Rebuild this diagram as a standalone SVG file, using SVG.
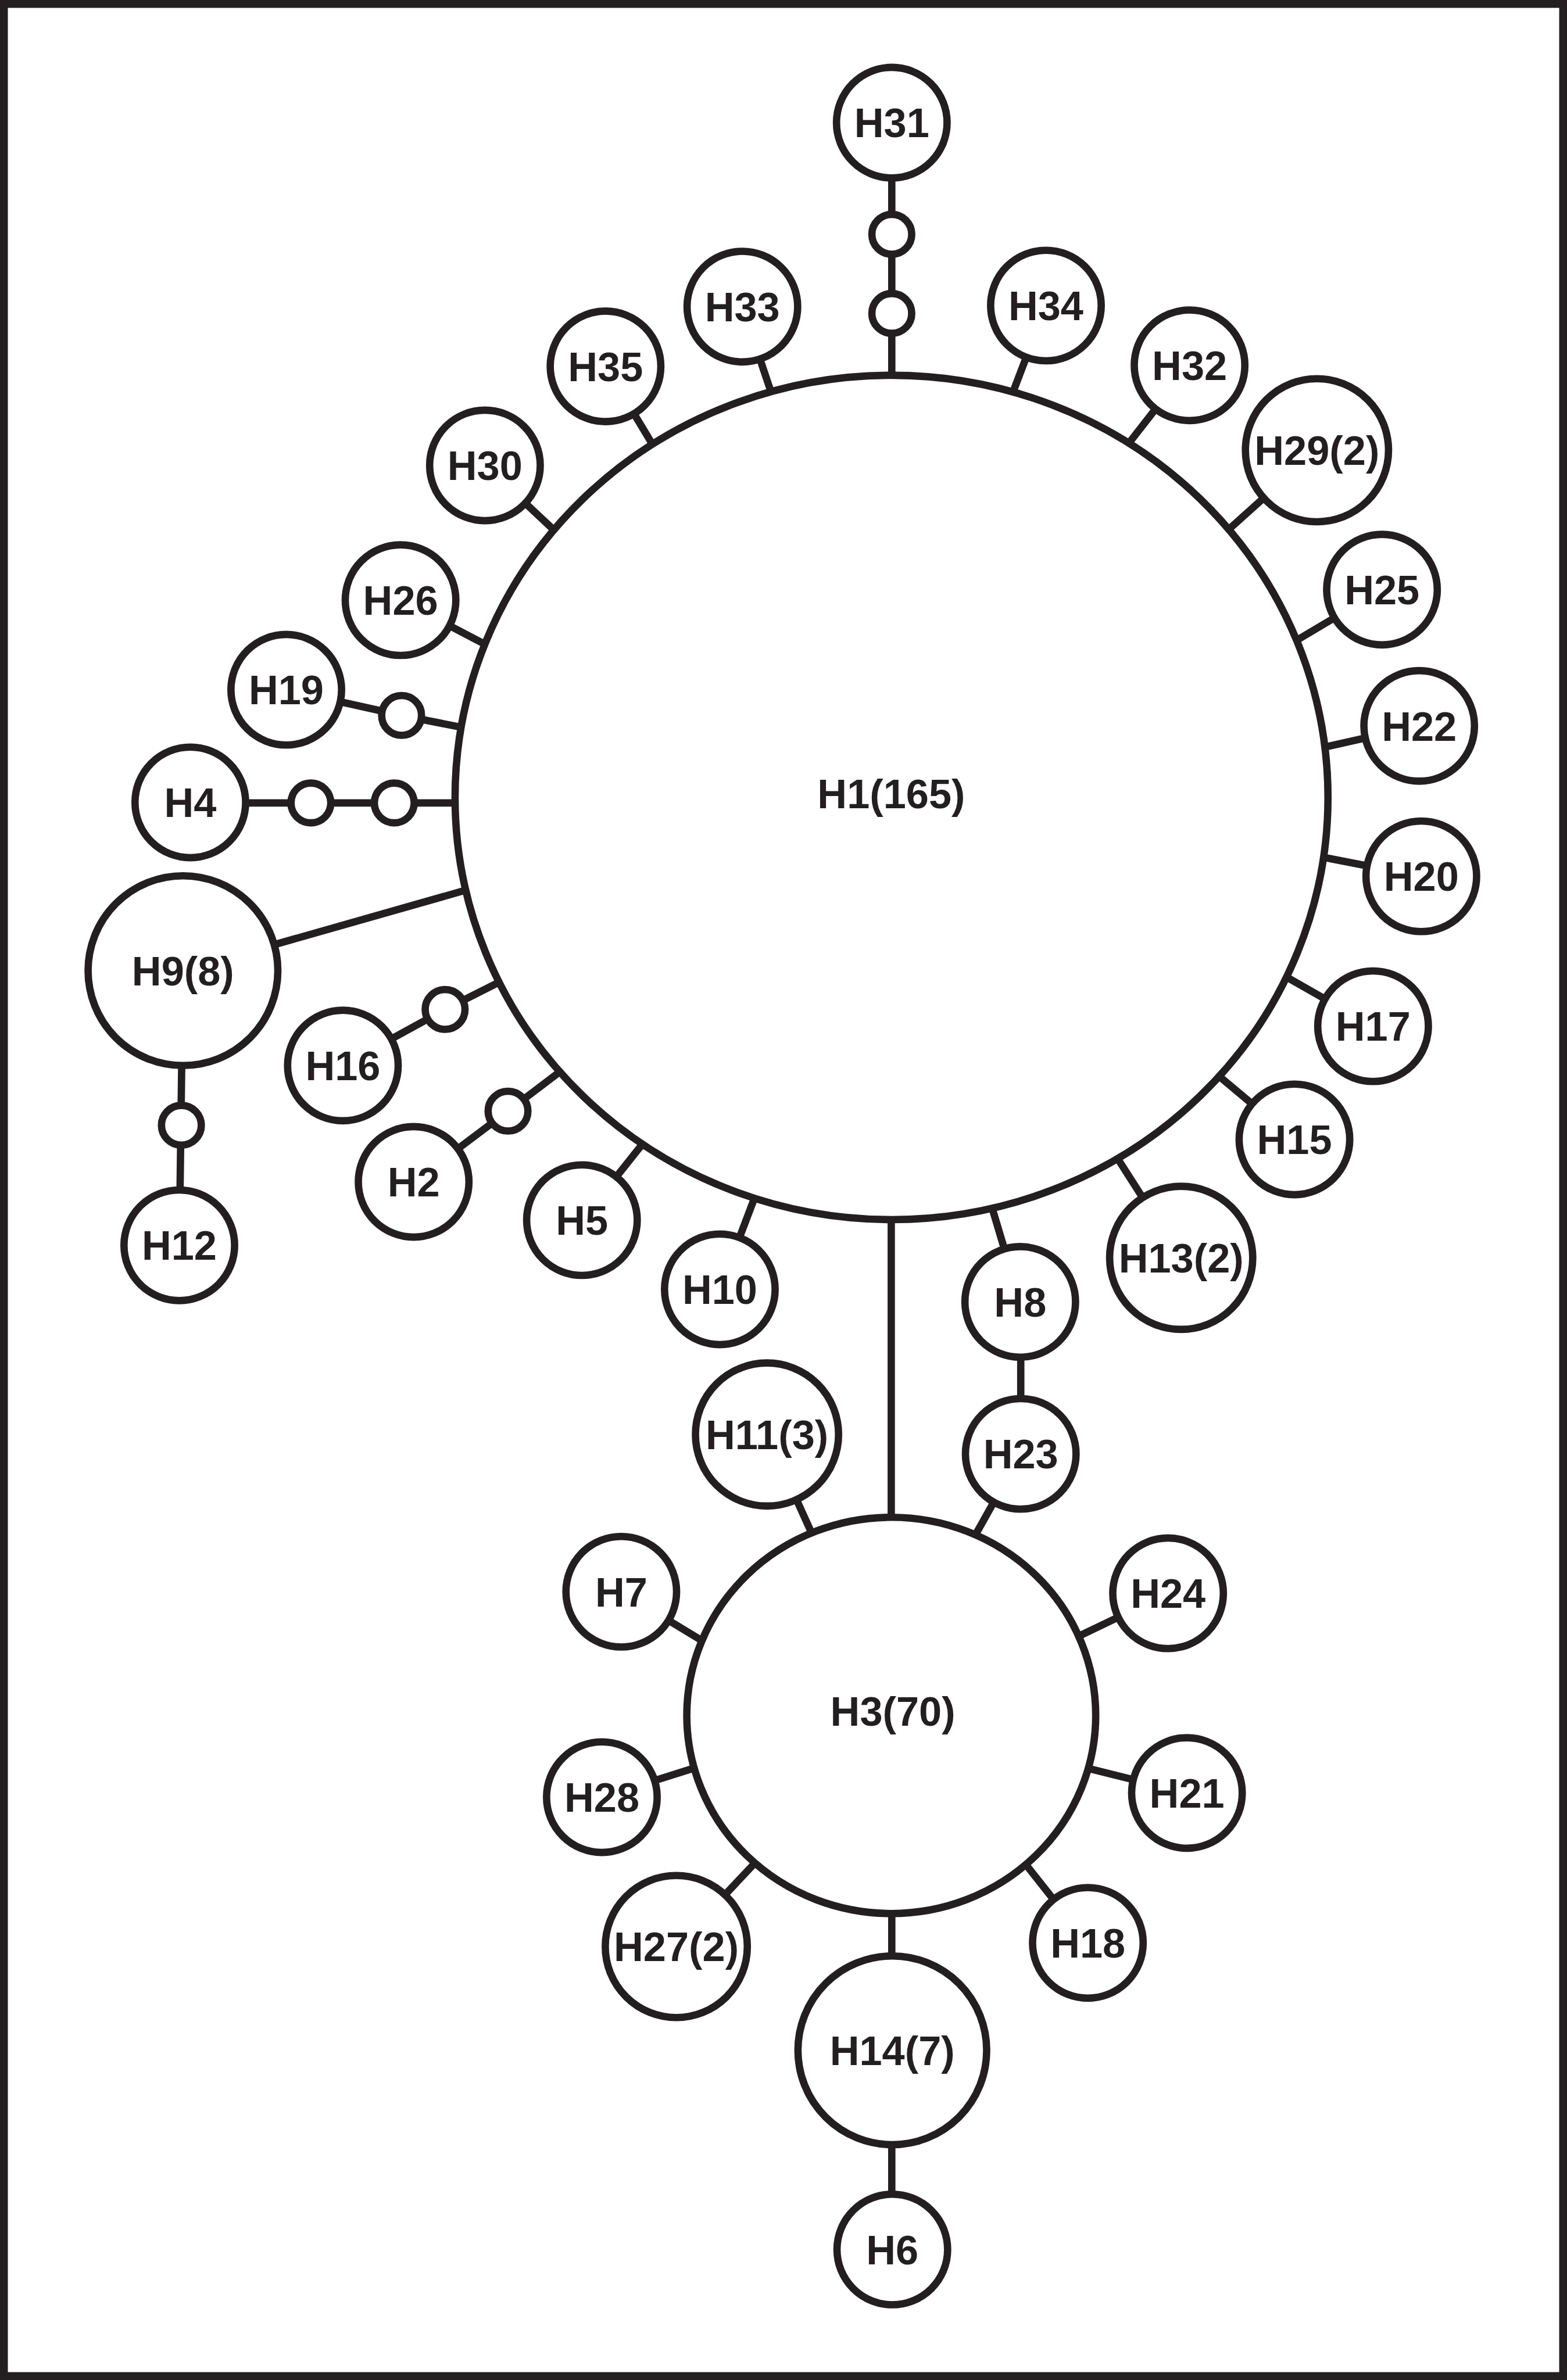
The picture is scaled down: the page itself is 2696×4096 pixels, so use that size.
<svg xmlns="http://www.w3.org/2000/svg" width="2696" height="4096" viewBox="0 0 2696 4096">
<style>
.n{fill:#ffffff;stroke:#231f20;stroke-width:14}
.c line{stroke:#231f20;stroke-width:14;stroke-linecap:butt}
.t{font-family:"Liberation Sans",Arial,sans-serif;font-weight:bold;font-size:78px;fill:#231f20;text-anchor:middle}
</style>
<rect x="0" y="0" width="2696" height="4096" fill="#ffffff"/>
<g transform="scale(0.902)">
<rect x="7.5" y="7.5" width="2974" height="4526" fill="none" stroke="#231f20" stroke-width="15"/>
<g id="connectors" class="c">
<line x1="1701" y1="234" x2="1701" y2="730"/>
<line x1="1416" y1="585" x2="1472" y2="752"/>
<line x1="1995" y1="583" x2="1930" y2="754"/>
<line x1="1155" y1="699" x2="1247" y2="852"/>
<line x1="2269" y1="697" x2="2149" y2="851"/>
<line x1="925" y1="888" x2="1066" y2="1020"/>
<line x1="2512" y1="859" x2="2336" y2="1017"/>
<line x1="764" y1="1145" x2="932" y2="1233"/>
<line x1="2636" y1="1125" x2="2466" y2="1226"/>
<line x1="546" y1="1316" x2="766" y2="1365"/>
<line x1="766" y1="1365" x2="887" y2="1389"/>
<line x1="2707" y1="1385" x2="2520" y2="1427"/>
<line x1="363" y1="1532" x2="880" y2="1532"/>
<line x1="2711" y1="1672" x2="2520" y2="1635"/>
<line x1="349" y1="1852" x2="897" y2="1696"/>
<line x1="342" y1="2376" x2="349" y2="1852"/>
<line x1="2619" y1="1958" x2="2450" y2="1862"/>
<line x1="654" y1="2033" x2="849" y2="1926"/>
<line x1="849" y1="1926" x2="958" y2="1871"/>
<line x1="2469" y1="2174" x2="2320" y2="2049"/>
<line x1="789" y1="2255" x2="969" y2="2120"/>
<line x1="969" y1="2120" x2="1077" y2="2038"/>
<line x1="2253" y1="2400" x2="2127" y2="2203"/>
<line x1="1110" y1="2328" x2="1234" y2="2172"/>
<line x1="1373" y1="2460" x2="1444" y2="2273"/>
<line x1="1946" y1="2484" x2="1890" y2="2297"/>
<line x1="1947" y1="2484" x2="1947" y2="2774"/>
<line x1="1947" y1="2774" x2="1858" y2="2933"/>
<line x1="1463" y1="2737" x2="1549" y2="2927"/>
<line x1="1700" y1="2310" x2="1700" y2="2910"/>
<line x1="1185" y1="3037" x2="1345" y2="3134"/>
<line x1="2228" y1="3040" x2="2051" y2="3125"/>
<line x1="1148" y1="3429" x2="1332" y2="3371"/>
<line x1="2264" y1="3421" x2="2071" y2="3373"/>
<line x1="1290" y1="3714" x2="1448" y2="3546"/>
<line x1="2075" y1="3707" x2="1950" y2="3549"/>
<line x1="1701" y1="3600" x2="1701" y2="4292"/>
</g>
<g id="H1"><ellipse class="n" cx="1700.5" cy="1521.5" rx="832.5" ry="805.5"/><text class="t" x="1700" y="1542">H1(165)</text></g>
<g id="H3"><ellipse class="n" cx="1700" cy="3273" rx="390" ry="378"/><text class="t" x="1703" y="3293">H3(70)</text></g>
<g id="H31"><circle class="n" cx="1701" cy="234" r="105.5"/><text class="t" x="1701" y="262">H31</text></g>
<g id="mv1"><circle class="n" cx="1701" cy="447" r="38"/></g>
<g id="mv2"><circle class="n" cx="1701" cy="598" r="38"/></g>
<g id="H33"><circle class="n" cx="1416" cy="585" r="105.5"/><text class="t" x="1416" y="613">H33</text></g>
<g id="H34"><circle class="n" cx="1995" cy="583" r="105.5"/><text class="t" x="1995" y="611">H34</text></g>
<g id="H35"><circle class="n" cx="1155" cy="699" r="105.5"/><text class="t" x="1155" y="727">H35</text></g>
<g id="H32"><circle class="n" cx="2269" cy="697" r="105.5"/><text class="t" x="2269" y="725">H32</text></g>
<g id="H30"><circle class="n" cx="925" cy="888" r="105.5"/><text class="t" x="925" y="916">H30</text></g>
<g id="H29"><circle class="n" cx="2512" cy="859" r="136.5"/><text class="t" x="2512" y="887">H29(2)</text></g>
<g id="H26"><circle class="n" cx="764" cy="1145" r="105.5"/><text class="t" x="764" y="1173">H26</text></g>
<g id="H25"><circle class="n" cx="2636" cy="1125" r="105.5"/><text class="t" x="2636" y="1153">H25</text></g>
<g id="H19"><circle class="n" cx="546" cy="1316" r="105.5"/><text class="t" x="546" y="1344">H19</text></g>
<g id="mv3"><circle class="n" cx="766" cy="1365" r="38"/></g>
<g id="H22"><circle class="n" cx="2707" cy="1385" r="105.5"/><text class="t" x="2707" y="1413">H22</text></g>
<g id="H4"><circle class="n" cx="363" cy="1531" r="105.5"/><text class="t" x="363" y="1559">H4</text></g>
<g id="mv4"><circle class="n" cx="593" cy="1532" r="38"/></g>
<g id="mv5"><circle class="n" cx="752" cy="1532" r="38"/></g>
<g id="H20"><circle class="n" cx="2711" cy="1672" r="105.5"/><text class="t" x="2711" y="1700">H20</text></g>
<g id="H9"><circle class="n" cx="349" cy="1852" r="181"/><text class="t" x="349" y="1880">H9(8)</text></g>
<g id="mv6"><circle class="n" cx="346" cy="2147" r="38"/></g>
<g id="H12"><circle class="n" cx="342" cy="2376" r="105.5"/><text class="t" x="342" y="2404">H12</text></g>
<g id="H17"><circle class="n" cx="2619" cy="1958" r="105.5"/><text class="t" x="2619" y="1986">H17</text></g>
<g id="H16"><circle class="n" cx="654" cy="2033" r="105.5"/><text class="t" x="654" y="2061">H16</text></g>
<g id="mv7"><circle class="n" cx="849" cy="1926" r="38"/></g>
<g id="H15"><circle class="n" cx="2469" cy="2174" r="105.5"/><text class="t" x="2469" y="2202">H15</text></g>
<g id="H2"><circle class="n" cx="789" cy="2255" r="105.5"/><text class="t" x="789" y="2283">H2</text></g>
<g id="mv8"><circle class="n" cx="969" cy="2120" r="38"/></g>
<g id="H13"><circle class="n" cx="2253" cy="2400" r="136.5"/><text class="t" x="2253" y="2428">H13(2)</text></g>
<g id="H5"><circle class="n" cx="1110" cy="2328" r="105.5"/><text class="t" x="1110" y="2356">H5</text></g>
<g id="H10"><circle class="n" cx="1373" cy="2460" r="105.5"/><text class="t" x="1373" y="2488">H10</text></g>
<g id="H8"><circle class="n" cx="1946" cy="2484" r="105.5"/><text class="t" x="1946" y="2512">H8</text></g>
<g id="H23"><circle class="n" cx="1947" cy="2774" r="105.5"/><text class="t" x="1947" y="2802">H23</text></g>
<g id="H11"><circle class="n" cx="1463" cy="2737" r="136.5"/><text class="t" x="1463" y="2765">H11(3)</text></g>
<g id="H7"><circle class="n" cx="1185" cy="3037" r="105.5"/><text class="t" x="1185" y="3065">H7</text></g>
<g id="H24"><circle class="n" cx="2228" cy="3040" r="105.5"/><text class="t" x="2228" y="3068">H24</text></g>
<g id="H28"><circle class="n" cx="1148" cy="3429" r="105.5"/><text class="t" x="1148" y="3457">H28</text></g>
<g id="H21"><circle class="n" cx="2264" cy="3421" r="105.5"/><text class="t" x="2264" y="3449">H21</text></g>
<g id="H27"><circle class="n" cx="1290" cy="3714" r="135.5"/><text class="t" x="1290" y="3742">H27(2)</text></g>
<g id="H18"><circle class="n" cx="2075" cy="3707" r="105.5"/><text class="t" x="2075" y="3735">H18</text></g>
<g id="H14"><circle class="n" cx="1702" cy="3912" r="180"/><text class="t" x="1702" y="3940">H14(7)</text></g>
<g id="H6"><circle class="n" cx="1702" cy="4292" r="105.5"/><text class="t" x="1702" y="4320">H6</text></g>
</g>
</svg>
